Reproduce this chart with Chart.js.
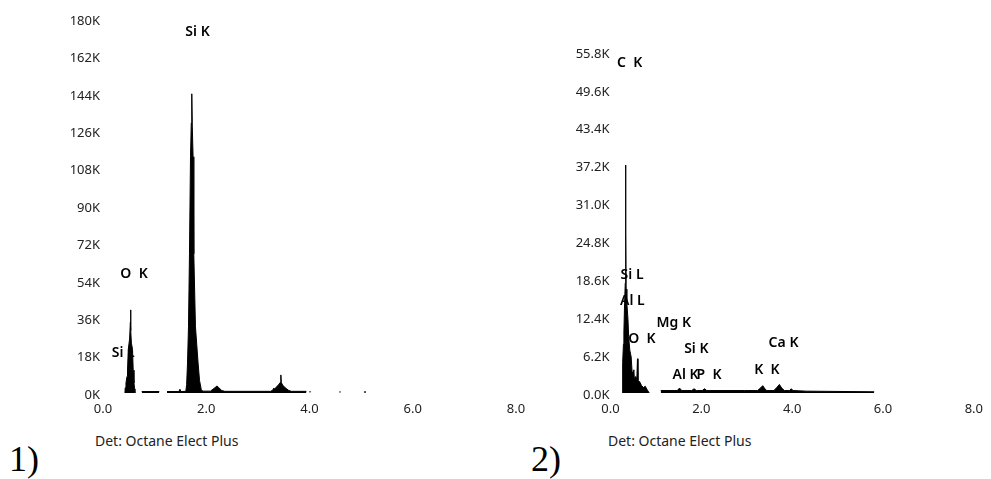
<!DOCTYPE html>
<html>
<head>
<meta charset="utf-8">
<script src="https://cdn.jsdelivr.net/npm/chart.js@4.4.1/dist/chart.umd.min.js"></script>
<style>
  body { margin: 0; background: #fff; width: 991px; height: 479px; overflow: hidden; position: relative; font-family: "Noto Sans", sans-serif; }
  canvas { position: absolute; top: 0; }
  #spec1 { left: 0; }
  #spec2 { left: 540px; }
  .det { position: absolute; top: 432px; font-size: 14px; line-height: 18px; color: #222; white-space: nowrap; }
  .num { position: absolute; top: 441px; font-family: "Liberation Serif", serif; font-size: 36px; line-height: 36px; color: #000; }
</style>
</head>
<body>
<canvas id="spec1" width="540" height="430"></canvas>
<canvas id="spec2" width="451" height="430"></canvas>
<div class="det" style="left:95px">Det: Octane Elect Plus</div>
<div class="det" style="left:608px">Det: Octane Elect Plus</div>
<div class="num" style="left:9px">1)</div>
<div class="num" style="left:531px">2)</div>
<script>
// espectro 1 (keV / cuentas), null = hueco
const kev1 = [0.425, 0.43, 0.445, 0.465, 0.475, 0.49, 0.515, 0.53, 0.535, 0.54, 0.55, 0.572, 0.585, 0.60, 0.612, 0.618,
  0.70,
  0.75, 1.09,
  1.15,
  1.24, 1.47, 1.49, 1.51, 1.604, 1.62, 1.637, 1.656, 1.675, 1.695, 1.71, 1.72, 1.73, 1.745, 1.759, 1.791, 1.842, 1.87, 1.907, 1.95,
  2.08, 2.13, 2.19, 2.21, 2.24, 2.30, 2.36, 3.25, 3.29, 3.31, 3.33, 3.36, 3.40, 3.43, 3.445, 3.455, 3.48, 3.53, 3.60, 3.65, 3.94,
  3.97,
  4.0, 4.02,
  4.3,
  4.58, 4.60,
  4.8,
  5.06, 5.09];
const cps1 = [0, 2500, 4800, 8000, 11000, 21000, 26000, 34000, 40000, 30000, 24000, 21000, 11000, 4800, 2000, 0,
  null,
  700, 700,
  null,
  700, 700, 1800, 700, 800, 4000, 14400, 31900, 67000, 113700, 130000, 144000, 128000, 113700, 67000, 31900, 14400, 6000, 1200, 900,
  900, 1800, 3000, 3400, 2600, 1200, 800, 800, 1500, 2400, 1800, 3000, 3900, 5000, 8700, 5000, 3800, 2500, 1200, 800, 800,
  null,
  700, 700,
  null,
  600, 600,
  null,
  600, 600];

// espectro 2
const kev2 = [0.255, 0.26, 0.275, 0.285, 0.295, 0.31, 0.325, 0.331, 0.335, 0.339, 0.345, 0.36, 0.385, 0.40, 0.425, 0.455,
  0.475, 0.495, 0.515, 0.525, 0.555, 0.58, 0.594, 0.605, 0.645, 0.685, 0.725, 0.765, 0.81, 0.853,
  0.95,
  1.106, 1.47, 1.52, 1.57, 1.79, 1.84, 1.89, 2.02, 2.07, 2.12, 2.95, 3.24, 3.30, 3.352, 3.40, 3.44, 3.60, 3.66, 3.719, 3.77,
  3.83, 3.94, 3.98, 4.02, 4.32, 5.806];
const cps2 = [0, 2000, 5000, 8000, 10000, 14700, 18000, 28900, 37300, 26200, 17000, 14700, 12000, 9200, 7000, 5900,
  3500, 2700, 3800, 2300, 2700, 2200, 5600, 2100, 1800, 1200, 900, 1100, 500, 0,
  null,
  400, 400, 800, 400, 400, 700, 400, 400, 700, 400, 400, 400, 800, 1200, 700, 400, 400, 900, 1400, 800,
  400, 400, 700, 400, 300, 200];

// etiquetas de picos
const picos1 = ["Si K", "O  K", "Si L"];
const picosKev1 = [1.831, 0.601, 0.393];
const picosCps1 = [173900, 57300, 19400];

const picos2 = ["C  K", "Si L", "Al L", "Mg K", "O  K", "Si K", "Ca K", "Al K", "P  K", "K  K"];
const picosKev2 = [0.421, 0.475, 0.48, 1.393, 0.691, 1.89, 3.81, 1.652, 2.171, 3.445];
const picosCps2 = [54060, 19300, 15100, 11500, 8800, 7200, 8130, 2950, 2950, 3760];

const xTicks = [0, 2, 4, 6, 8];

const peakLabels = {
  id: 'peakLabels',
  afterDatasetsDraw(chart, args, opts) {
    const { ctx, scales: { x, y } } = chart;
    ctx.save();
    ctx.font = '600 14px "Noto Sans"';
    ctx.fillStyle = '#000';
    ctx.textAlign = 'center';
    ctx.textBaseline = 'middle';
    opts.names.forEach((n, i) => {
      ctx.fillText(n, x.getPixelForValue(opts.kev[i]), y.getPixelForValue(opts.cps[i]));
    });
    ctx.restore();
  }
};

function crearEspectro(id, kev, cps, yMax, yStep, fmtY, area, etiquetas) {
  const canvas = document.getElementById(id);
  const ctx = canvas.getContext("2d");
  const tickFont = { family: 'Noto Sans', size: 13 };
  return new Chart(ctx, {
    type: 'line',
    data: {
      datasets: [{
        data: kev.map((k, i) => ({ x: k, y: cps[i] })),
        borderColor: '#000',
        backgroundColor: '#000',
        borderWidth: 1,
        fill: 'origin',
        pointRadius: 0,
        tension: 0,
        spanGaps: false
      }]
    },
    options: {
      responsive: false,
      animation: false,
      events: [],
      layout: { padding: { left: 0, top: area.top, right: area.right, bottom: 0 } },
      scales: {
        x: {
          type: 'linear',
          min: 0,
          max: 8,
          afterBuildTicks: s => { s.ticks = xTicks.map(v => ({ value: v })); },
          afterFit: s => { s.height = canvas.height - area.bottom; },
          grid: { display: false, drawTicks: false },
          border: { display: false },
          ticks: { color: '#222', font: tickFont, padding: 8, maxRotation: 0, callback: v => v.toFixed(1) }
        },
        y: {
          min: 0,
          max: yMax,
          afterFit: s => { s.width = area.left; },
          grid: { display: false, drawTicks: false },
          border: { display: false },
          ticks: { color: '#222', font: tickFont, padding: area.pad, stepSize: yStep, labelOffset: 2, callback: fmtY }
        }
      },
      plugins: {
        legend: { display: false },
        tooltip: { enabled: false },
        peakLabels: etiquetas
      }
    },
    plugins: [peakLabels]
  });
}

crearEspectro("spec1", kev1, cps1, 180000, 18000, v => (v / 1000) + 'K',
  { left: 103, right: 24, top: 19, bottom: 393, pad: 3 },
  { names: picos1, kev: picosKev1, cps: picosCps1 });

crearEspectro("spec2", kev2, cps2, 55800, 6200, v => (v / 1000).toFixed(1) + 'K',
  { left: 70.5, right: 10, top: 52, bottom: 393, pad: 1 },
  { names: picos2, kev: picosKev2, cps: picosCps2 });
</script>
</body>
</html>
